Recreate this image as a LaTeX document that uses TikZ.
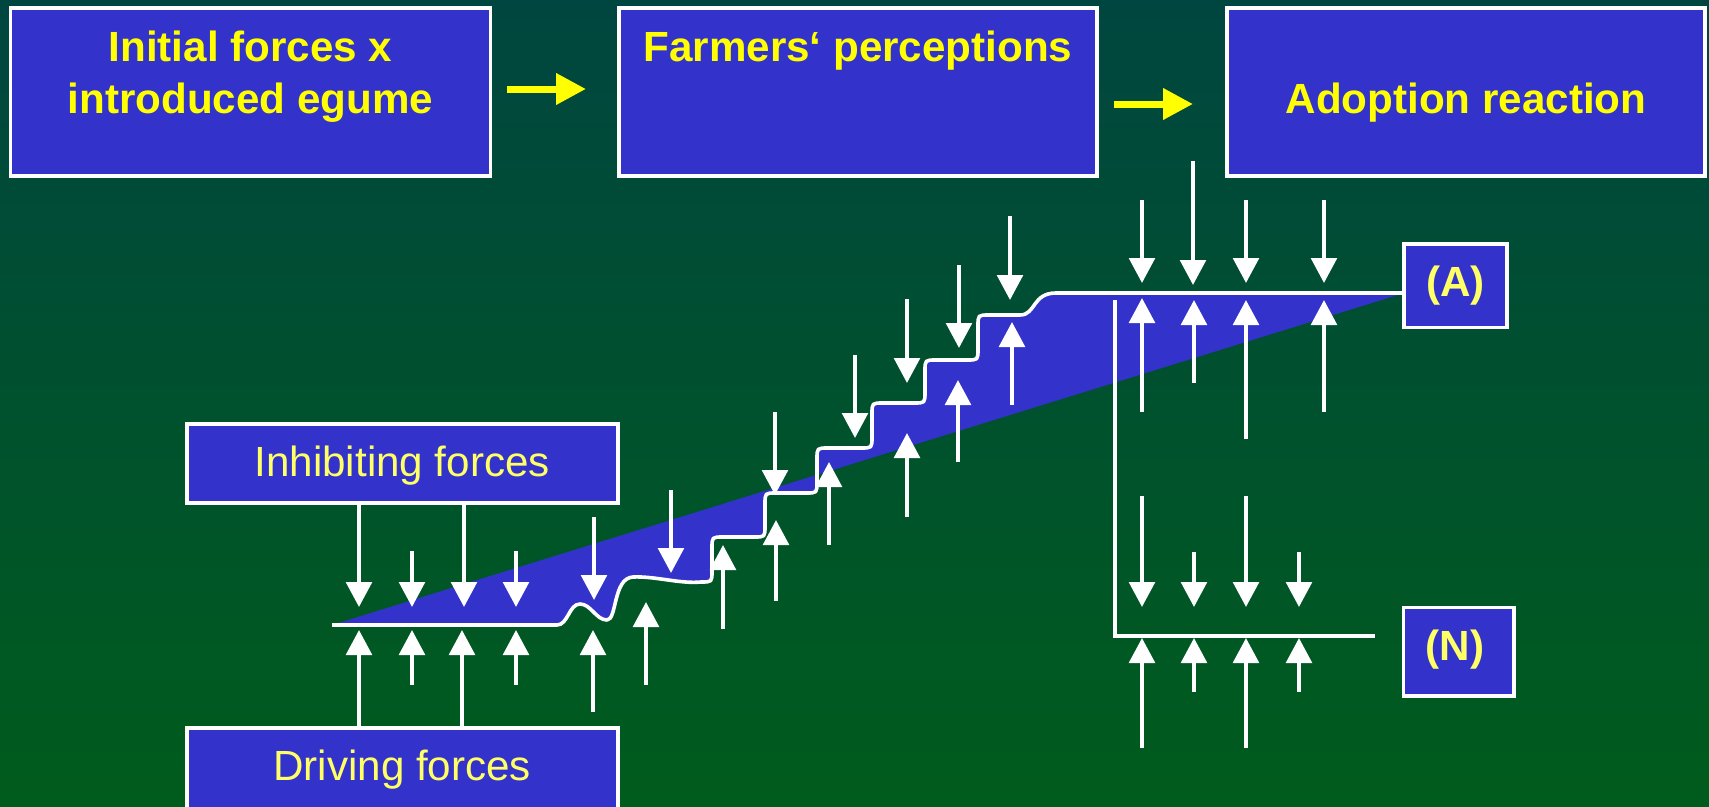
\documentclass[tikz,border=0pt]{standalone}
\usepackage{fontspec}
\setmainfont{Liberation Sans}
\usetikzlibrary{arrows.meta}
\definecolor{boxblue}{RGB}{51,51,204}
\definecolor{bgtop}{RGB}{0,70,64}
\definecolor{bgbot}{RGB}{0,92,28}
\definecolor{ytop}{RGB}{255,255,0}
\definecolor{ylow}{RGB}{255,255,102}
\def\stairs{(332,625) -- (557,625) .. controls (568,625) and (569,604) .. (580,604) .. controls (591,604) and (596,620) .. (607,620) .. controls (617,620) and (613,578) .. (633,577) .. controls (655,576) and (680,584) .. (701,582) .. controls (712,582) .. (712,571) -- (712,548) .. controls (712,537) .. (723,537) -- (754,537) .. controls (765,537) .. (765,526) -- (765,504) .. controls (765,493) .. (776,493) -- (806,493) .. controls (817,493) .. (817,482) -- (817,459) .. controls (817,448) .. (828,448) -- (861,448) .. controls (872,448) .. (872,437) -- (872,414) .. controls (872,403) .. (883,403) -- (914,403) .. controls (925,403) .. (925,392) -- (925,371) .. controls (925,360) .. (936,360) -- (967,360) .. controls (978,360) .. (978,349) -- (978,326) .. controls (978,315) .. (989,315) -- (1020,315) .. controls (1036,315) and (1032,293) .. (1056,293) -- (A.west |- 0,293)}
\begin{document}
\begin{tikzpicture}[x=0.1mm,y=-0.1mm,
  box/.style={fill=boxblue,draw=white,line width=0.38mm,inner sep=0pt,outer sep=0pt},
  toptext/.style={text=ytop,font=\fontsize{12pt}{14.4pt}\selectfont\bfseries,inner sep=0pt,anchor=base},
  lowtext/.style={text=ylow,font=\fontsize{12pt}{14.4pt}\selectfont,inner sep=0pt,anchor=base},
  labtext/.style={text=ylow,font=\fontsize{12pt}{14.4pt}\selectfont\bfseries,inner sep=0pt,anchor=base},
  wline/.style={draw=white,line width=0.36mm},
  force/.style={draw=white,line width=0.42mm,-{Triangle[width=2.55mm,length=2.5mm]}},
  yarrow/.style={draw=ytop,line width=0.7mm,-{Triangle[width=3mm,length=3mm]}}]
\useasboundingbox (0,0) rectangle (1709,807);
\clip (0,0) rectangle (1709,807);
\shade[top color=bgtop,bottom color=bgbot] (0,0) rectangle (1709,807);
% top boxes
\node[box,minimum width=48mm,minimum height=16.8mm] (b1) at (250.5,92) {};
\node[box,minimum width=47.8mm,minimum height=16.8mm] (b2) at (858,92) {};
\node[box,minimum width=47.8mm,minimum height=16.8mm] (b3) at (1466,92) {};
\node[toptext] (t1a) at (250.5,61.7) {Initial forces x};
\node[toptext] (t1b) at (250.5,113) {introduced egume};
\node[toptext] (t2) at (858,61) {Farmers‘ perceptions};
\node[toptext] (t3) at (1466,113) {Adoption reaction};
% yellow arrows
\coordinate (y1s) at (507,89);
\coordinate (y1e) at (586,89);
\coordinate (y2s) at (1114,104);
\coordinate (y2e) at (1193,104);
\draw[yarrow] (y1s) -- (y1e);
\draw[yarrow] (y2s) -- (y2e);
% lower boxes
\node[box,minimum width=43.1mm,minimum height=7.9mm] (inh) at (402.2,463.8) {};
\node[lowtext] (inht) at (402.2,476.7) {Inhibiting forces};
\node[box,minimum width=43.1mm,minimum height=13.2mm] (drv) at (402.2,794.3) {};
\node[lowtext] (drvt) at (402.2,780.7) {Driving forces};
\node[box,minimum width=10.3mm,minimum height=8.35mm] (A) at (1455.5,285.75) {};
\node[labtext] (At) at (1455.5,296.7) {(A)};
\node[box,minimum width=11.05mm,minimum height=8.85mm] (N) at (1458.75,651.75) {};
\node[labtext] (Nt) at (1455,660.7) {(N)};
% blue band and staircase
\fill[boxblue] \stairs -- cycle;
\draw[wline,line join=round] \stairs;
% N branch
\coordinate (ns) at (1115,300);
\coordinate (ne) at (1375,636);
\draw[wline] (ns) |- (ne);
% down arrows
\draw[force] (359,0 |- inh.south) -- (359,607);
\draw[force] (412,551) -- (412,607);
\draw[force] (464,0 |- inh.south) -- (464,607);
\draw[force] (516,551) -- (516,607);
\draw[force] (594,517) -- (594,600);
\draw[force] (671,490) -- (671,573);
\draw[force] (775,412) -- (775,495);
\draw[force] (855,355) -- (855,438);
\draw[force] (907,299) -- (907,383);
\draw[force] (959,265) -- (959,348);
\draw[force] (1010,216) -- (1010,300);
\draw[force] (1142,200) -- (1142,283);
\draw[force] (1193,161) -- (1193,285);
\draw[force] (1246,200) -- (1246,283);
\draw[force] (1324,200) -- (1324,283);
\draw[force] (1142,496) -- (1142,607);
\draw[force] (1194,552) -- (1194,607);
\draw[force] (1246,496) -- (1246,607);
\draw[force] (1299,552) -- (1299,607);
% up arrows
\draw[force] (359,0 |- drv.north) -- (359,630);
\draw[force] (412,685) -- (412,630);
\draw[force] (462,0 |- drv.north) -- (462,630);
\draw[force] (516,685) -- (516,630);
\draw[force] (593,712) -- (593,630);
\draw[force] (646,685) -- (646,602);
\draw[force] (723,629) -- (723,545);
\draw[force] (776,601) -- (776,520);
\draw[force] (829,545) -- (829,462);
\draw[force] (907,517) -- (907,433);
\draw[force] (958,462) -- (958,380);
\draw[force] (1012,405) -- (1012,322);
\draw[force] (1142,412) -- (1142,298);
\draw[force] (1194,383) -- (1194,300);
\draw[force] (1246,439) -- (1246,300);
\draw[force] (1324,412) -- (1324,300);
\draw[force] (1142,748) -- (1142,638);
\draw[force] (1194,692) -- (1194,638);
\draw[force] (1246,748) -- (1246,638);
\draw[force] (1299,692) -- (1299,638);
\end{tikzpicture}
\end{document}
